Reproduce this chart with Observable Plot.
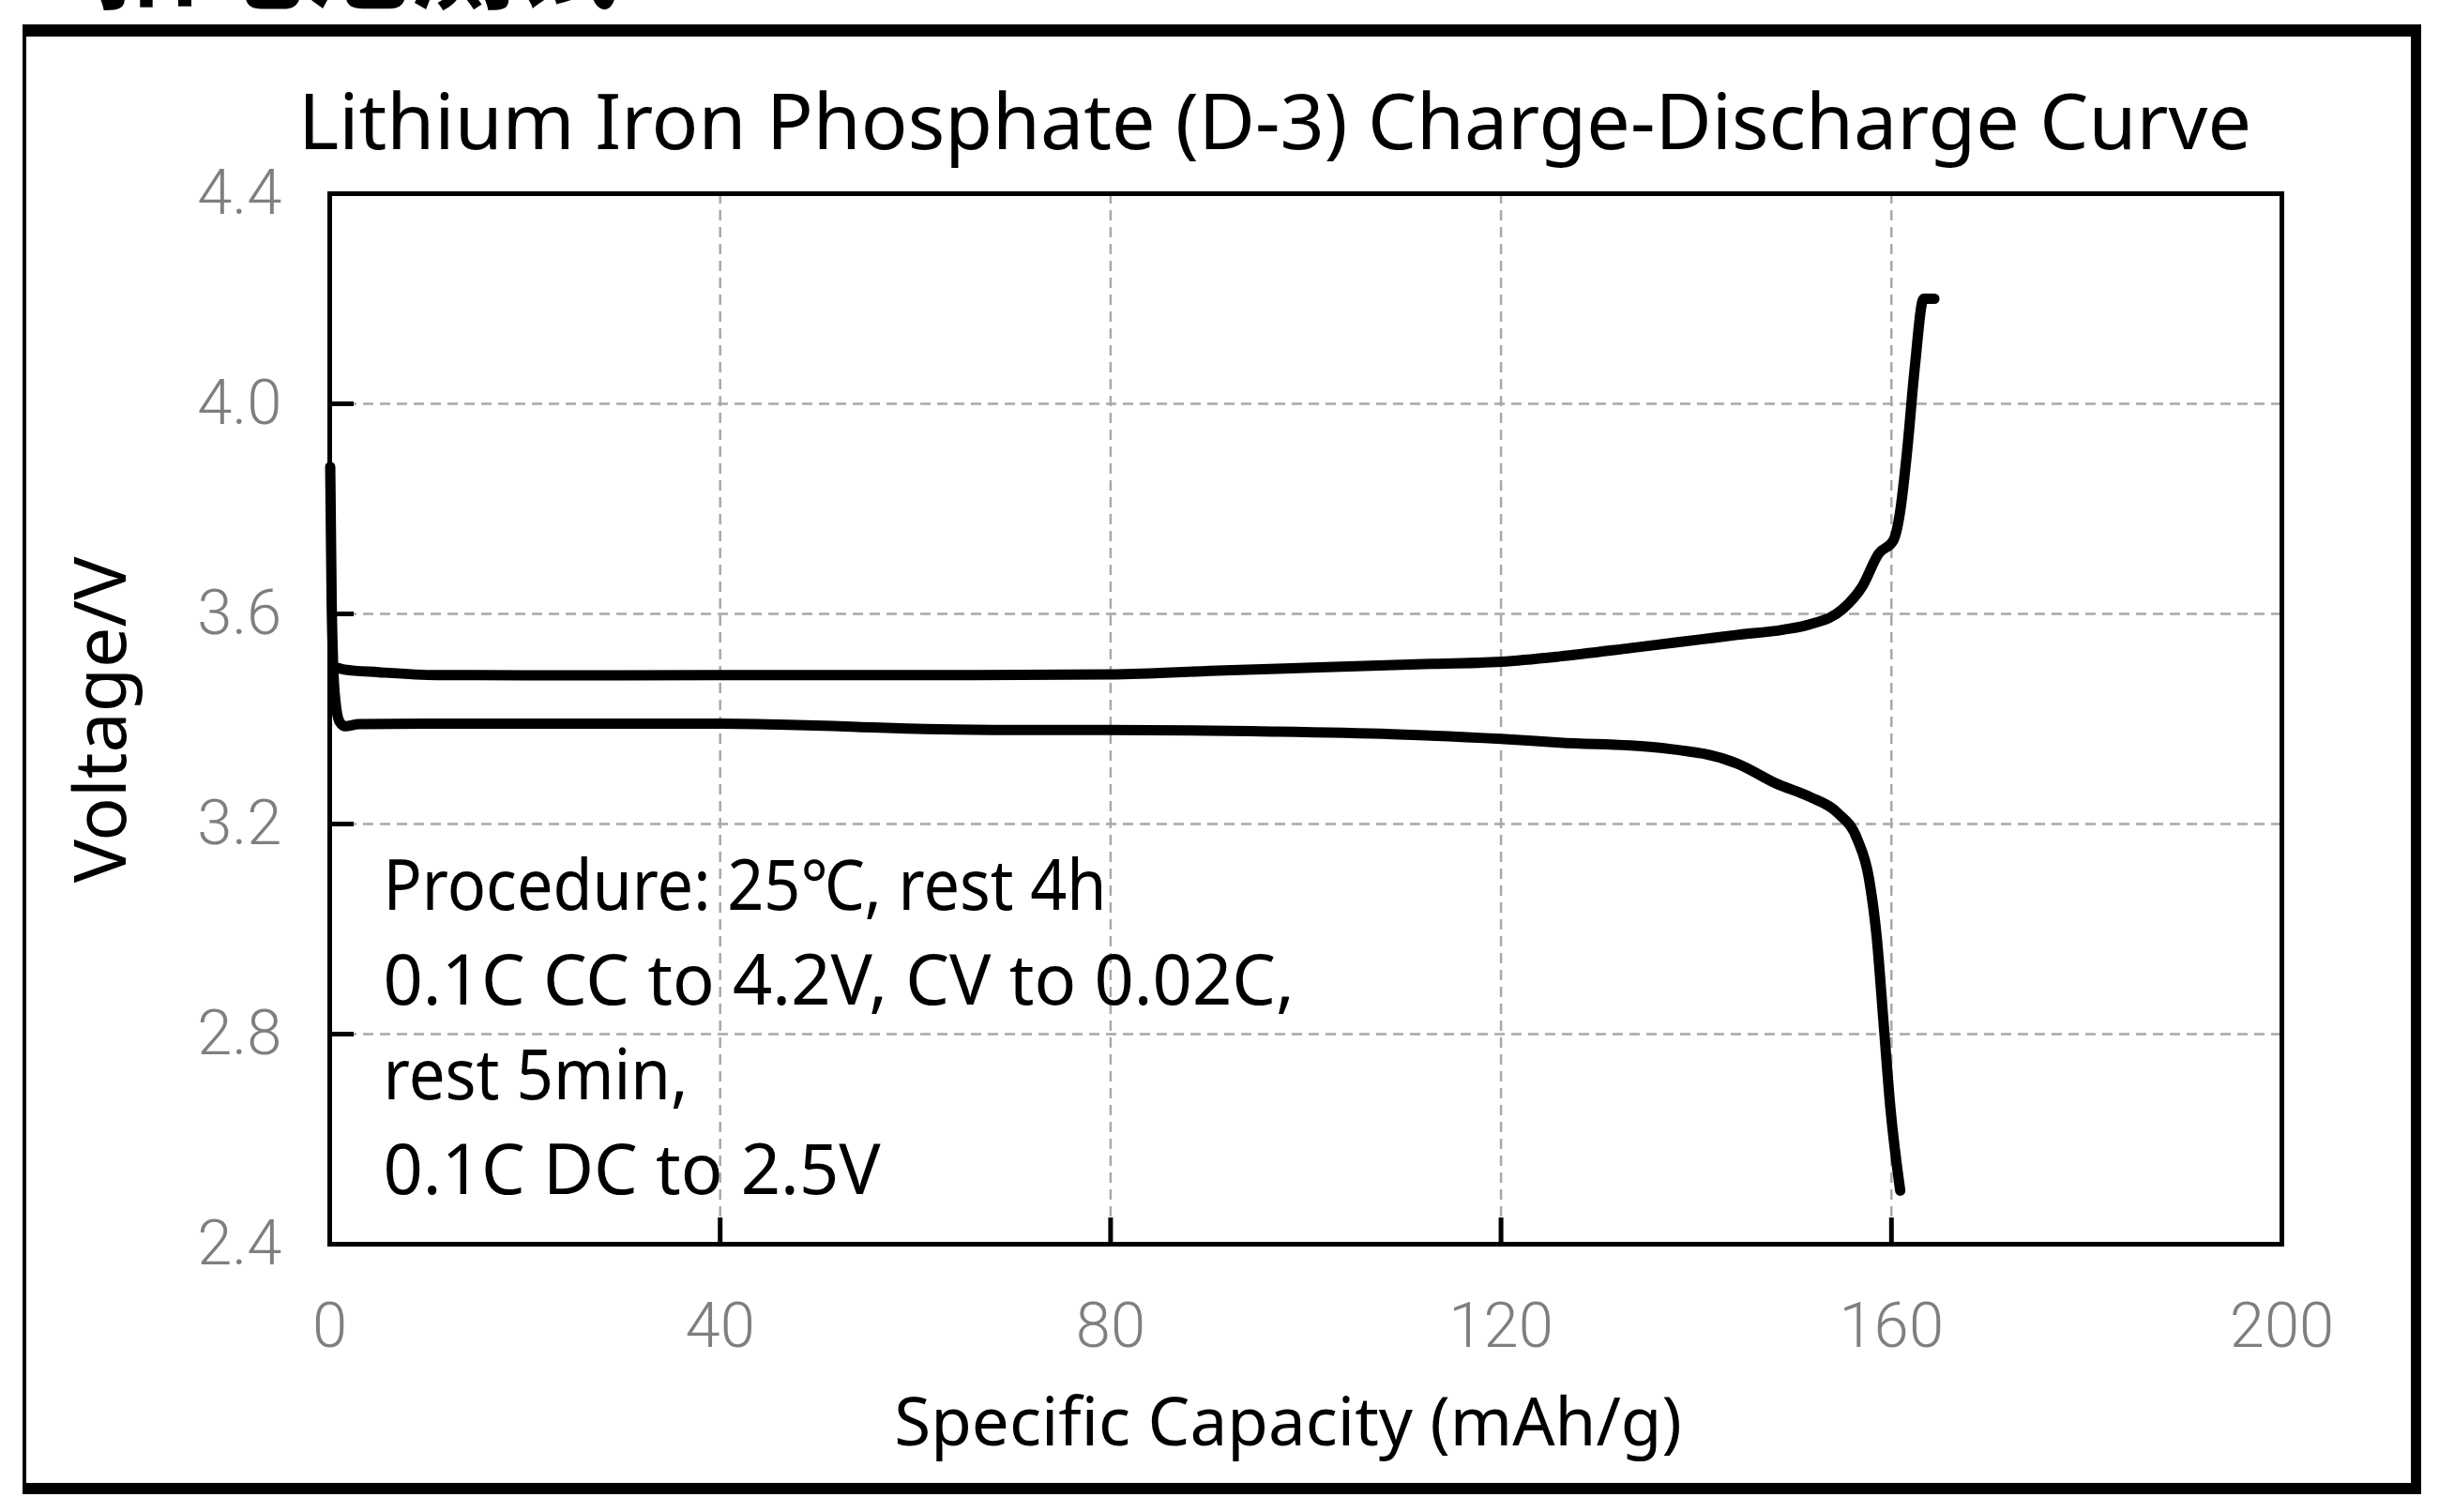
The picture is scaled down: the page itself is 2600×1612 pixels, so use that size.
<!DOCTYPE html>
<html>
<head>
<meta charset="utf-8">
<script src="https://cdn.jsdelivr.net/npm/d3@7"></script>
<script src="https://cdn.jsdelivr.net/npm/@observablehq/plot@0.6"></script>
<style>
  html, body { margin: 0; padding: 0; background: #fff; }
  #page { position: relative; width: 2600px; height: 1612px; overflow: hidden; background: #fff; }
  #outer { position: absolute; left: 24px; top: 26px; width: 2557px; height: 1567px; box-sizing: border-box;
           border-left: 4px solid #000; border-top: 13px solid #000; border-right: 11px solid #000; border-bottom: 12px solid #000; }
  #head { position: absolute; left: 0; top: 0; }
  #chart { position: absolute; left: 0; top: 0; }
</style>
</head>
<body>
<div id="page">
  <svg id="head" width="2600" height="60"><text x="101" y="1" font-family="Noto Sans CJK SC" font-weight="700" font-size="112" fill="#000">扣电池测试</text></svg>
  <div id="outer"></div>
  <div id="chart"></div>
</div>
<script>
const chartTitle = "Lithium Iron Phosphate (D-3) Charge-Discharge Curve";
const xTitle = "Specific Capacity (mAh/g)";
const yTitle = "Voltage/V";
const noteLines = ["Procedure: 25℃, rest 4h", "0.1C CC to 4.2V, CV to 0.02C,", "rest 5min,", "0.1C DC to 2.5V"];

const capTicks = [0, 40, 80, 120, 160, 200];
const voltTicks = [2.4, 2.8, 3.2, 3.6, 4.0, 4.4];
const capGrid = [40, 80, 120, 160];
const voltGrid = [2.8, 3.2, 3.6, 4.0];

// Charge curve (specific capacity mAh/g, voltage V)
const chargeCap = [0.3, 1.5, 5, 11, 20, 40, 60, 80, 91.6, 101.4, 111.3, 120, 126, 133.3, 140.7, 144.2, 148.9, 151.6, 155.0, 157.0, 158.7, 160.2, 160.9, 161.6, 162.4, 163.3, 164.4];
const chargeV   = [3.500, 3.494, 3.489, 3.4835, 3.483, 3.4835, 3.4835, 3.4846, 3.4925, 3.498, 3.504, 3.509, 3.519, 3.535, 3.552, 3.560, 3.570, 3.580, 3.609, 3.652, 3.715, 3.740, 3.796, 3.909, 4.071, 4.200, 4.200];

// Discharge curve
const dischargeCap = [0.05, 0.2, 0.5, 1.0, 1.6, 3, 10, 20, 40, 47, 54, 61, 72, 80, 96.5, 108.8, 120, 126, 135.8, 139.3, 140.7, 144.2, 148.2, 151.6, 154.5, 156.5, 157.7, 158.5, 159.2, 159.9, 160.9];
const dischargeV   = [3.88, 3.62, 3.45, 3.395, 3.386, 3.390, 3.391, 3.391, 3.391, 3.389, 3.385, 3.381, 3.379, 3.379, 3.376, 3.371, 3.362, 3.355, 3.346, 3.338, 3.334, 3.315, 3.277, 3.252, 3.221, 3.171, 3.096, 2.983, 2.820, 2.658, 2.502];

const charge = chargeCap.map((c, i) => ({cap: c, v: chargeV[i]}));
const discharge = dischargeCap.map((c, i) => ({cap: c, v: dischargeV[i]}));

const gridStyle = {stroke: "#a8a8a8", strokeOpacity: 1, strokeWidth: 2.5, strokeDasharray: "11,7"};
const tickLabelStyle = {fontSize: 67, fontFamily: "Roboto", fontWeight: 300, fill: "#7f7f7f", label: null};
const textFont = "'Noto Sans', 'Noto Sans CJK SC', sans-serif";

const plot = Plot.plot({
  width: 2600,
  height: 1612,
  marginLeft: 351,
  marginRight: 168,
  marginTop: 206,
  marginBottom: 286,
  style: {fontFamily: textFont, background: "transparent", color: "#000"},
  x: {domain: [0, 200]},
  y: {domain: [2.4, 4.4]},
  marks: [
    Plot.gridX(capGrid, gridStyle),
    Plot.gridY(voltGrid, gridStyle),
    Plot.axisX(capTicks, {...tickLabelStyle, tickSize: 0, tickPadding: 62, tickFormat: d => String(d)}),
    Plot.axisY(voltTicks, {...tickLabelStyle, tickSize: 0, tickPadding: 51, tickFormat: d3.format(".1f")}),
    Plot.axisX(capTicks, {tickSize: -28, strokeWidth: 5, stroke: "#000", tickFormat: () => "", label: null}),
    Plot.axisY(voltTicks, {tickSize: -26, strokeWidth: 5, stroke: "#000", tickFormat: () => "", label: null}),
    Plot.line(charge, {x: "cap", y: "v", stroke: "#000", strokeWidth: 11, curve: "monotone-x", strokeLinecap: "round", strokeLinejoin: "round"}),
    Plot.line(discharge, {x: "cap", y: "v", stroke: "#000", strokeWidth: 11, curve: "monotone-x", strokeLinecap: "round", strokeLinejoin: "round"}),
    Plot.frame({stroke: "#000", strokeWidth: 5}),
    Plot.text([chartTitle], {frameAnchor: "top", lineAnchor: "bottom", textAnchor: "middle", dx: -33, dy: -48, fontSize: 82.5, fontFamily: textFont, fill: "#000"}),
    Plot.text([xTitle], {frameAnchor: "bottom", lineAnchor: "bottom", textAnchor: "middle", dx: -19, dy: 214, fontSize: 71, fontFamily: textFont, fill: "#000"}),
    Plot.text([yTitle], {frameAnchor: "left", lineAnchor: "bottom", textAnchor: "middle", rotate: -90, dx: -218, dy: 1, fontSize: 77, fontFamily: textFont, fill: "#000"}),
    Plot.text([noteLines.join("\n")], {frameAnchor: "bottom-left", lineAnchor: "bottom", textAnchor: "start", dx: 57, dy: -54, fontSize: 74, lineHeight: 1.361, fontFamily: textFont, fill: "#000"})
  ]
});

// The original's lowercase runs are a little narrower than Noto Sans: fit the two lowercase-heavy note lines
const fitWidths = {"Procedure: 25℃, rest 4h": 771, "rest 5min,": 325};
plot.querySelectorAll("tspan").forEach(t => {
  const w = fitWidths[t.textContent];
  if (w) {
    t.setAttribute("textLength", w);
    t.setAttribute("lengthAdjust", "spacingAndGlyphs");
  }
});

document.getElementById("chart").appendChild(plot);
</script>
</body>
</html>
